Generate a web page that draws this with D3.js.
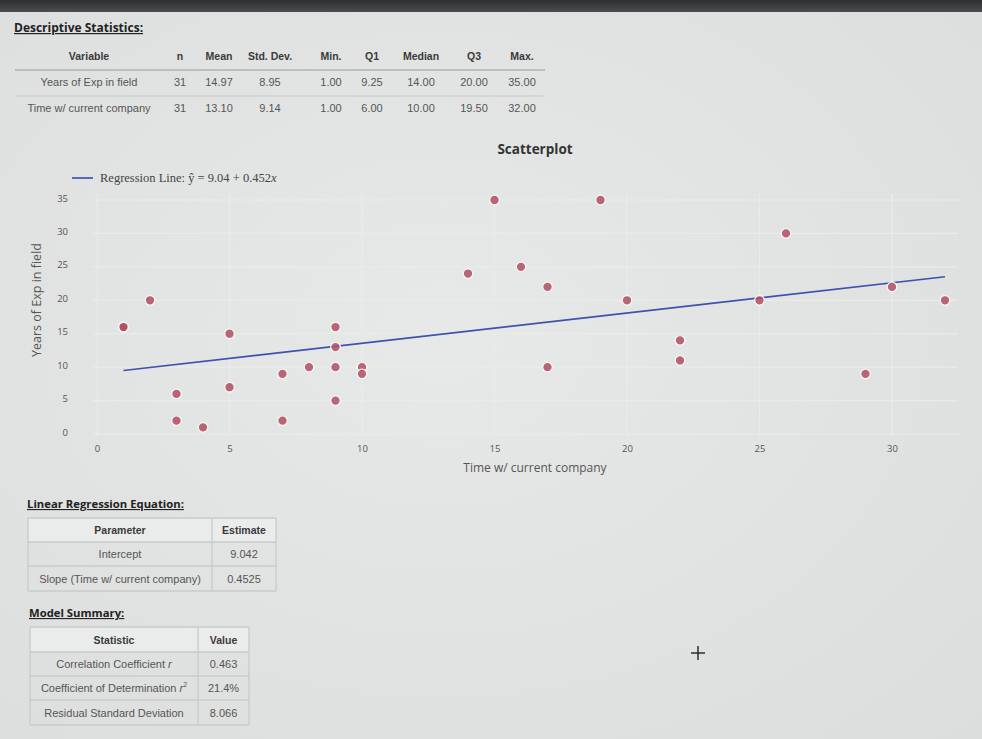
<!DOCTYPE html>
<html>
<head>
<meta charset="utf-8">
<script src="https://cdn.jsdelivr.net/npm/d3@7"></script>
<style>
  html,body{margin:0;padding:0;}
  body{width:982px;height:739px;overflow:hidden;background:#e3e5e4;}
  svg{display:block;}
</style>
</head>
<body>
<svg id="chart" width="982" height="739"></svg>
<script>
// ---------- data ----------
const timeWithCompany = [1,1,2,5,3,3,4,5,7,7,8,9,9,9,9,10,10,14,15,16,17,17,19,20,22,22,26,25,29,30,32];
const yearsExpInField = [16,16,20,15,6,2,1,7,9,2,10,16,13,10,5,10,9,24,35,25,22,10,35,20,14,11,30,20,9,22,20];
const xTicks = [0,5,10,15,20,25,30];
const yTicks = [0,5,10,15,20,25,30,35];
const regIntercept = 9.042;
const regSlope = 0.4525;

const descHeaders = ["Variable","n","Mean","Std. Dev.","Min.","Q1","Median","Q3","Max."];
const descRow1 = ["Years of Exp in field","31","14.97","8.95","1.00","9.25","14.00","20.00","35.00"];
const descRow2 = ["Time w/ current company","31","13.10","9.14","1.00","6.00","10.00","19.50","32.00"];

const regHeaders = ["Parameter","Estimate"];
const regRowNames = ["Intercept","Slope (Time w/ current company)"];
const regRowValues = ["9.042","0.4525"];

const sumHeaders = ["Statistic","Value"];
const sumRowNames = [["Correlation Coefficient ","r",""],["Coefficient of Determination ","r","2"],["Residual Standard Deviation","",""]];
const sumRowValues = ["0.463","21.4%","8.066"];

// ---------- drawing ----------
const svg = d3.select("#chart");
const sans = "'Liberation Sans', Arial, sans-serif";
const open = "'Open Sans', 'DejaVu Sans', sans-serif";

const defs = svg.append("defs");
const rg = defs.append("radialGradient").attr("id","bg").attr("cx","45%").attr("cy","45%").attr("r","75%");
rg.append("stop").attr("offset","0%").attr("stop-color","#e7e9e8");
rg.append("stop").attr("offset","100%").attr("stop-color","#dcdedd");
svg.append("rect").attr("width",982).attr("height",739).attr("fill","url(#bg)");
const tg = defs.append("linearGradient").attr("id","top").attr("x1",0).attr("x2",0).attr("y1",0).attr("y2",1);
tg.append("stop").attr("offset","0%").attr("stop-color","#2e3033");
tg.append("stop").attr("offset","100%").attr("stop-color","#4a4d50");
svg.append("rect").attr("width",982).attr("height",12).attr("fill","url(#top)");

// ----- Descriptive statistics -----
svg.append("text").attr("x",14).attr("y",32).text("Descriptive Statistics:")
  .attr("font-family",open).attr("font-size",12).attr("font-weight","bold").attr("fill","#222")
  .attr("text-decoration","underline");
const descCols = [89,180,219,270,331,372,421,474,522];
const descG = svg.append("g").attr("font-family",sans).attr("text-anchor","middle");
descG.selectAll("text.h").data(descHeaders).join("text")
  .attr("x",(d,i)=>descCols[i]).attr("y",60).text(d=>d)
  .attr("font-size",10.5).attr("font-weight","bold").attr("fill","#3a3a3a");
descG.append("line").attr("x1",15).attr("x2",545).attr("y1",70).attr("y2",70).attr("stroke","#9a9c9b").attr("stroke-width",1.2);
descG.selectAll("text.r1").data(descRow1).join("text")
  .attr("x",(d,i)=>descCols[i]).attr("y",86).text(d=>d).attr("font-size",11).attr("fill","#555");
descG.append("line").attr("x1",15).attr("x2",545).attr("y1",96).attr("y2",96).attr("stroke","#c4c6c5");
descG.selectAll("text.r2").data(descRow2).join("text")
  .attr("x",(d,i)=>descCols[i]).attr("y",112).text(d=>d).attr("font-size",11).attr("fill","#555");

// ----- Scatterplot -----
const x = d3.scaleLinear().domain([0,30]).range([97,892]);
const y = d3.scaleLinear().domain([0,35]).range([434,200]);
const plotLeft = 93, plotRight = 958, plotTop = 186, plotBottom = 437;

svg.append("text").attr("x",535).attr("y",154).attr("text-anchor","middle")
  .text("Scatterplot").attr("font-family",open).attr("font-weight","bold").attr("font-size",13.5).attr("fill","#333");

const grid = svg.append("g").attr("stroke","#e9ebea").attr("stroke-width",1.2);
grid.selectAll("line.v").data(xTicks).join("line")
  .attr("x1",d=>x(d)).attr("x2",d=>x(d)).attr("y1",plotTop+8).attr("y2",plotBottom);
grid.selectAll("line.h").data(yTicks).join("line")
  .attr("x1",plotLeft).attr("x2",plotRight).attr("y1",d=>y(d)).attr("y2",d=>y(d));

const xAxis = d3.axisBottom(x).tickValues(xTicks).tickSize(0).tickPadding(0);
const gx = svg.append("g").attr("transform","translate(0,445)").call(xAxis);
gx.select(".domain").remove();
gx.selectAll("text").attr("font-family",open).attr("font-size",9.5).attr("fill","#555");
const yAxis = d3.axisLeft(y).tickValues(yTicks).tickSize(0).tickPadding(0);
const gy = svg.append("g").attr("transform","translate(68,-2)").call(yAxis);
gy.select(".domain").remove();
gy.selectAll("text").attr("font-family",open).attr("font-size",9.5).attr("fill","#555");

svg.append("text").attr("x",535).attr("y",472).attr("text-anchor","middle")
  .text("Time w/ current company").attr("font-family",open).attr("font-size",12).attr("fill","#555");
svg.append("text").attr("transform","translate(41,300) rotate(-90)").attr("text-anchor","middle")
  .text("Years of Exp in field").attr("font-family",open).attr("font-size",12.5).attr("fill","#555");

// regression line
const xMin = d3.min(timeWithCompany), xMax = d3.max(timeWithCompany);
const lineData = [xMin, xMax].map(v=>({x:v, y:regIntercept+regSlope*v}));
svg.append("path").datum(lineData)
  .attr("d", d3.line().x(d=>x(d.x)).y(d=>y(d.y)))
  .attr("fill","none").attr("stroke","#3f51b0").attr("stroke-width",1.7);

// points
const pts = timeWithCompany.map((v,i)=>({x:v,y:yearsExpInField[i]}));
svg.append("g").selectAll("circle").data(pts).join("circle")
  .attr("cx",d=>x(d.x)).attr("cy",d=>y(d.y)).attr("r",4.8)
  .attr("fill","#b04e62").attr("fill-opacity",0.85)
  .attr("stroke","#f6f6f6").attr("stroke-width",1.3);

// legend
svg.append("line").attr("x1",72).attr("x2",93).attr("y1",178).attr("y2",178)
  .attr("stroke","#3f51b0").attr("stroke-width",1.7);
svg.append("text").attr("x",100).attr("y",182)
  .attr("font-family","'Liberation Serif','DejaVu Serif',serif").attr("font-size",12.5).attr("fill","#444")
  .text("Regression Line: ŷ = 9.04 + 0.452")
  .append("tspan").attr("font-style","italic").text("x");

// ----- generic bordered table -----
function drawTable(g, left, top, colW, rowH, headers, names, values){
  const w = colW[0]+colW[1];
  const t = g.append("g").attr("font-family",sans).attr("text-anchor","middle");
  t.append("rect").attr("x",left).attr("y",top).attr("width",w).attr("height",rowH[0])
    .attr("fill","#eaeceb");
  let yy = top;
  const ys = [top];
  rowH.forEach(h=>{yy+=h; ys.push(yy);});
  t.selectAll("line.h").data(ys).join("line")
    .attr("x1",left).attr("x2",left+w).attr("y1",d=>d).attr("y2",d=>d)
    .attr("stroke","#c9cbca").attr("stroke-width",1.3);
  [left, left+colW[0], left+w].forEach(xv=>{
    t.append("line").attr("x1",xv).attr("x2",xv).attr("y1",top).attr("y2",ys[ys.length-1])
      .attr("stroke","#c9cbca").attr("stroke-width",1.3);
  });
  headers.forEach((h,i)=>{
    t.append("text").attr("x", i===0? left+colW[0]/2 : left+colW[0]+colW[1]/2)
      .attr("y",(ys[0]+ys[1])/2+4).text(h)
      .attr("font-size",10.5).attr("font-weight","bold").attr("fill","#3a3a3a");
  });
  names.forEach((n,i)=>{
    const tx = t.append("text").attr("x",left+colW[0]/2).attr("y",(ys[i+1]+ys[i+2])/2+4)
      .attr("font-size",11).attr("fill","#555");
    if (Array.isArray(n)) {
      tx.append("tspan").text(n[0]);
      if (n[1]) tx.append("tspan").attr("font-style","italic").text(n[1]);
      if (n[2]) tx.append("tspan").attr("font-size",7).attr("dy",-5).text(n[2]);
    } else tx.text(n);
    t.append("text").attr("x",left+colW[0]+colW[1]/2).attr("y",(ys[i+1]+ys[i+2])/2+4)
      .text(values[i]).attr("font-size",11).attr("fill","#555");
  });
  return t;
}

svg.append("text").attr("x",27).attr("y",508).text("Linear Regression Equation:")
  .attr("font-family",open).attr("font-size",11.3).attr("font-weight","bold").attr("fill","#222")
  .attr("text-decoration","underline");
drawTable(svg, 28, 518, [184,64], [24,24,25], regHeaders, regRowNames, regRowValues);

svg.append("text").attr("x",29).attr("y",617).text("Model Summary:")
  .attr("font-family",open).attr("font-size",11.3).attr("font-weight","bold").attr("fill","#222")
  .attr("text-decoration","underline");
drawTable(svg, 30, 627, [168,51], [25,24,24,25], sumHeaders, sumRowNames, sumRowValues);

// cursor crosshair
const cur = svg.append("g").attr("stroke","#222").attr("stroke-width",1.4);
cur.append("line").attr("x1",691).attr("x2",705).attr("y1",653).attr("y2",653);
cur.append("line").attr("x1",698).attr("x2",698).attr("y1",646).attr("y2",660);
</script>
</body>
</html>
